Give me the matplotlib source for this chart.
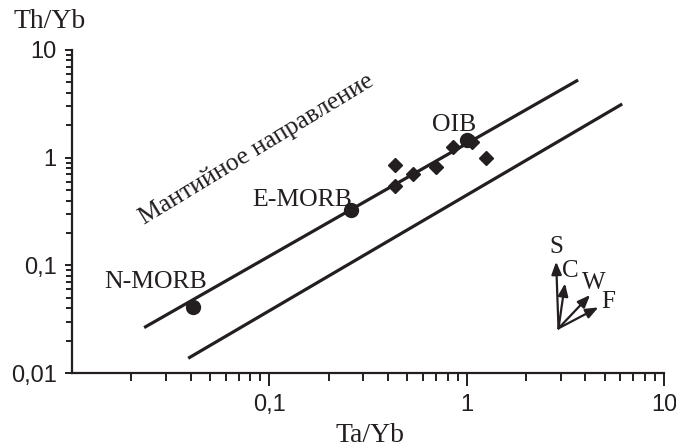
import matplotlib
matplotlib.use("Agg")
import matplotlib.pyplot as plt
from matplotlib.ticker import FixedLocator, LogLocator, NullFormatter, FixedFormatter

# ---- data ----
ref_names = ["N-MORB", "E-MORB", "OIB"]
ref_ta_yb = [0.041, 0.26, 1.0]
ref_th_yb = [0.041, 0.33, 1.45]

sample_ta_yb = [0.434, 0.434, 0.537, 0.70, 0.857, 1.07, 1.25]
sample_th_yb = [0.855, 0.55, 0.705, 0.824, 1.26, 1.40, 0.99]

upper_line_x = [0.0232, 3.67]
upper_line_y = [0.0264, 5.26]
lower_line_x = [0.0388, 6.14]
lower_line_y = [0.0137, 3.15]

vector_origin = (2.92, 0.026)
vector_names = ["S", "C", "W", "F"]
vector_tip_x = [2.84, 3.15, 4.22, 4.65]
vector_tip_y = [0.108, 0.068, 0.053, 0.0407]

x_ticks = [0.1, 1, 10]
x_tick_labels = ["0,1", "1", "10"]
y_ticks = [0.01, 0.1, 1, 10]
y_tick_labels = ["0,01", "0,1", "1", "10"]

INK = "#231f20"
SERIF = ["Liberation Serif", "DejaVu Serif"]
SANS = ["Liberation Sans", "DejaVu Sans"]

fig = plt.figure(figsize=(6.76, 4.48), dpi=100)
ax = fig.add_axes([72/676, 1-373/448, 592/676, 323/448])
ax.set_xscale("log")
ax.set_yscale("log")
ax.set_xlim(0.01, 10)
ax.set_ylim(0.01, 10)

for s in ["top", "right"]:
    ax.spines[s].set_visible(False)
for s in ["left", "bottom"]:
    ax.spines[s].set_linewidth(1.6)
    ax.spines[s].set_color(INK)

ax.xaxis.set_major_locator(FixedLocator(x_ticks))
ax.xaxis.set_major_formatter(FixedFormatter(x_tick_labels))
ax.yaxis.set_major_locator(FixedLocator(y_ticks))
ax.yaxis.set_major_formatter(FixedFormatter(y_tick_labels))
ax.xaxis.set_minor_locator(LogLocator(base=10, subs=range(2, 10)))
ax.yaxis.set_minor_locator(LogLocator(base=10, subs=range(2, 10)))
ax.xaxis.set_minor_formatter(NullFormatter())
ax.yaxis.set_minor_formatter(NullFormatter())

ax.tick_params(axis="x", which="major", direction="out", length=9, width=1.4, color=INK, pad=6)
ax.tick_params(axis="x", which="minor", direction="out", length=6, width=1.4, color=INK)
ax.tick_params(axis="y", which="major", direction="out", length=5, width=1.4, color=INK, pad=6)
ax.tick_params(axis="y", which="minor", direction="out", length=4, width=1.4, color=INK)
for lab in ax.get_xticklabels() + ax.get_yticklabels():
    lab.set_fontfamily(SANS)
    lab.set_fontsize(17)
    lab.set_color(INK)

# lines
ax.plot(upper_line_x, upper_line_y, color=INK, lw=2.3, solid_capstyle="butt", zorder=2)
ax.plot(lower_line_x, lower_line_y, color=INK, lw=2.3, solid_capstyle="butt", zorder=2)

# samples
ax.plot(sample_ta_yb, sample_th_yb, linestyle="none", marker="D", markersize=7.5,
        color=INK, zorder=3)
# reference points
ax.plot(ref_ta_yb, ref_th_yb, linestyle="none", marker="o", markersize=10,
        color=INK, zorder=4)

# labels for reference points
ax.text(0.0264, 0.0705, "N-MORB", family=SERIF, fontsize=18.5, color=INK, ha="center", va="center")
ax.text(0.146, 0.405, "E-MORB", family=SERIF, fontsize=18.5, color=INK, ha="center", va="center")
ax.text(0.863, 2.01, "OIB", family=SERIF, fontsize=18.5, color=INK, ha="center", va="center")

ax.text(0.0857, 1.20, "Мантийное направление", family=SERIF, fontsize=18.5, color=INK,
        ha="center", va="center", rotation=31.3, rotation_mode="anchor")

# vectors
label_pos = {"S": (2.84, 0.148), "C": (3.36, 0.088), "W": (4.42, 0.069), "F": (5.22, 0.046)}
for name, tx, ty in zip(vector_names, vector_tip_x, vector_tip_y):
    ax.annotate("", xy=(tx, ty), xytext=vector_origin,
                arrowprops=dict(arrowstyle="-|>,head_length=0.75,head_width=0.3",
                                color=INK, lw=1.6, shrinkA=0, shrinkB=0))
    lx, ly = label_pos[name]
    ax.text(lx, ly, name, family=SERIF, fontsize=18, color=INK, ha="center", va="center")

fig.text(50/676, 1-21/448, "Th/Yb", family=SERIF, fontsize=20, color=INK, ha="center", va="center")
fig.text(370/676, 1-435/448, "Ta/Yb", family=SERIF, fontsize=20, color=INK, ha="center", va="center")

fig.savefig("out.png", dpi=100)
